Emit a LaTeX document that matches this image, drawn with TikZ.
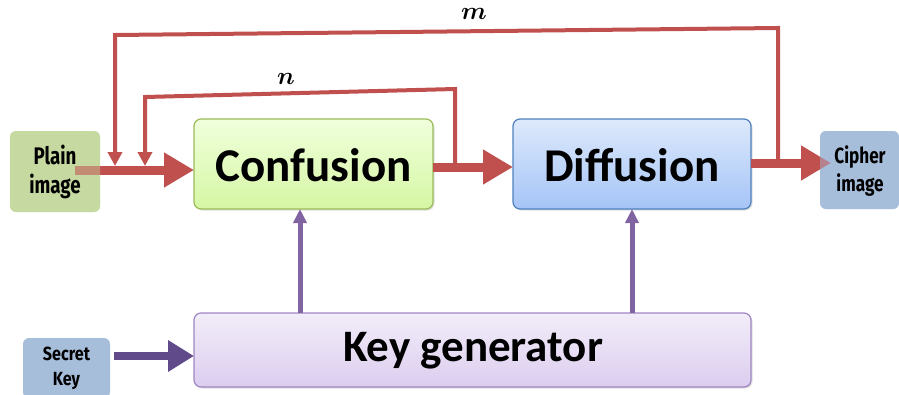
\documentclass[tikz,border=0pt]{standalone}
\usepackage{fontspec}
\setmainfont{Carlito}
\newfontfamily\narrowfont[FakeStretch=0.78]{Fira Sans}
\newfontfamily\keyfont[FakeStretch=0.85]{Fira Sans}
\usetikzlibrary{arrows.meta,shadows}
\definecolor{redline}{HTML}{C0504D}
\definecolor{purpline}{HTML}{8064A2}
\definecolor{purpdark}{HTML}{604A8A}
\definecolor{plainfill}{HTML}{C5D9A0}
\definecolor{cipherfill}{HTML}{A7BEDB}
\definecolor{confA}{HTML}{F0FFDC}
\definecolor{confB}{HTML}{D6F7A4}
\definecolor{confD}{HTML}{9BBB59}
\definecolor{diffA}{HTML}{DDE9FB}
\definecolor{diffB}{HTML}{A5C4F7}
\definecolor{diffD}{HTML}{4F81BD}
\definecolor{keyA}{HTML}{F2EDF9}
\definecolor{keyB}{HTML}{DCCDEF}
\definecolor{keyD}{HTML}{9F86C2}
\tikzset{
  mainbox/.style={rounded corners=7pt, line width=1.2pt, drop shadow={shadow xshift=1.5pt, shadow yshift=-1.5pt, opacity=0.25}},
  sidetext/.style={font=\narrowfont\bfseries\fontsize{24}{29}\selectfont, align=center},
  bigarrow/.style={redline, line width=9pt, -{Triangle[length=30pt, width=33pt]}},
  loopline/.style={redline, line width=4pt, -{Triangle[length=14pt, width=14pt]}},
  keyarrow/.style={purpline, line width=5pt, -{Triangle[length=14pt, width=13pt]}},
  looplabel/.style={font=\boldmath\fontsize{26}{26}\selectfont, inner sep=0pt},
}
\begin{document}
\begin{tikzpicture}[x=1pt, y=-1pt]
\useasboundingbox (0,0) rectangle (899,394);

% side boxes
\path[fill=plainfill, rounded corners=6pt] (10,131) rectangle (100,212);
\path[fill=cipherfill, rounded corners=6pt] (820,131) rectangle (899,209);
\path[fill=cipherfill, rounded corners=6pt] (23,338) rectangle (110,398);

% main blocks
\draw[mainbox, draw=confD, top color=confA, bottom color=confB] (194,119) rectangle (433,209);
\draw[mainbox, draw=diffD, top color=diffA, bottom color=diffB] (513,119) rectangle (751,209);
\draw[mainbox, draw=keyD, top color=keyA, bottom color=keyB] (194,313) rectangle (751,387);

\node[font=\bfseries\fontsize{47}{49}\selectfont] (conf) at (313.5,165) {Confusion};
\node[font=\bfseries\fontsize{47}{49}\selectfont] (diff) at (632,165) {Diffusion};
\node[font=\bfseries\fontsize{45}{47}\selectfont] (key) at (473,351) {Key generator};

% anchor points
\coordinate (pOut) at (75,170);
\coordinate (cIn) at (194,170);
\coordinate (cOut) at (433,167);
\coordinate (dIn) at (513,167);
\coordinate (dOut) at (751,163);
\coordinate (xIn) at (831,163);
\coordinate (nTap) at (455,167);
\coordinate (nDrop) at (145,166);
\coordinate (mTap) at (778,163);
\coordinate (mDrop) at (115,166);
\coordinate (sOut) at (114,356);
\coordinate (kIn) at (194,356);
\coordinate (kC) at (300,313);
\coordinate (cBot) at (300,209);
\coordinate (kD) at (632,313);
\coordinate (dBot) at (632,209);

% main data path
\draw[bigarrow] (pOut) -- (cIn);
\draw[bigarrow] (cOut) -- (dIn);
\draw[bigarrow] (dOut) -- (xIn);

% feedback loops
\draw[loopline] (nTap) -- (455,89) -- (145,97) -- (nDrop);
\draw[loopline] (mTap) -- (778,28) -- (115,35) -- (mDrop);
\node[looplabel] (nlab) at (286,79) {$n$};
\node[looplabel] (mlab) at (474,14) {$m$};

% key paths
\draw[keyarrow] (kC) -- (cBot);
\draw[keyarrow] (kD) -- (dBot);
\draw[purpdark, line width=8pt, -{Triangle[length=26pt, width=30pt]}] (sOut) -- (kIn);

% tint where arrows pass over side boxes
\path[fill=plainfill, opacity=0.45, rounded corners=6pt] (10,131) rectangle (100,212);
\path[fill=cipherfill, opacity=0.45, rounded corners=6pt] (820,131) rectangle (899,209);

\node[sidetext] (plain) at (55,172) {Plain\\image};
\node[sidetext, font=\narrowfont\bfseries\fontsize{22}{28}\selectfont] (cipher) at (860,171) {Cipher\\image};
\node[sidetext, font=\keyfont\bfseries\fontsize{19}{25}\selectfont] (secret) at (66.5,368) {Secret\\Key};
\end{tikzpicture}
\end{document}
